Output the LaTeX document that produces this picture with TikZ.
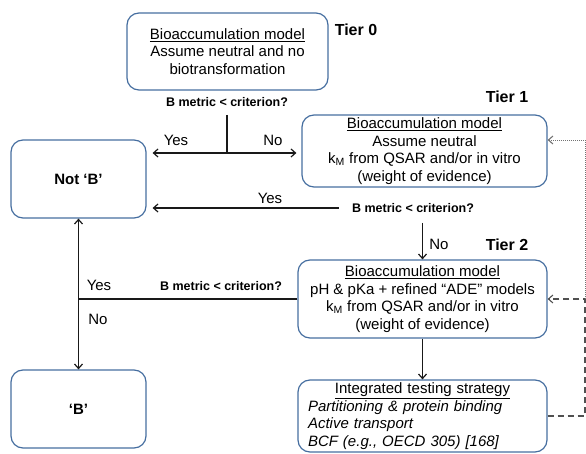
\documentclass[tikz,border=0pt]{standalone}
\usepackage{fontspec}
\setmainfont{Liberation Sans}
\usetikzlibrary{arrows.meta}
\definecolor{boxblue}{RGB}{70,110,160}
\definecolor{linegray}{RGB}{25,25,25}
\definecolor{dashgray}{RGB}{80,80,80}
\begin{document}
\begin{tikzpicture}[x=1pt,y=-1pt,
  box/.style={draw=boxblue, line width=1.2pt, rounded corners=12pt, align=center,
    font=\fontsize{15}{17.5}\selectfont, inner sep=0pt},
  qlabel/.style={font=\bfseries\fontsize{12.5}{14}\selectfont, inner sep=1pt},
  tier/.style={font=\bfseries\fontsize{16}{18}\selectfont, inner sep=0pt},
  lbl/.style={font=\fontsize{15}{17}\selectfont, inner sep=0pt},
  tip/.style={-{Straight Barb[length=4.5pt,width=8pt,line width=1.2pt]}},
  conn/.style={line width=1.2pt, draw=linegray},
  arr/.style={conn, tip},
  dashconn/.style={line width=1.1pt, draw=dashgray, dash pattern=on 6pt off 4pt},
  dotconn/.style={line width=0.8pt, draw=dashgray!80, dash pattern=on 1pt off 1pt}
]
\useasboundingbox (0,0) rectangle (586,454);

% boxes
\node[box, minimum width=201pt, minimum height=77pt] (t0) at (227.5,51.5)
  {\underline{Bioaccumulation model}\\Assume neutral and no\\biotransformation};
\node[box, minimum width=245pt, minimum height=72pt] (t1) at (424.5,151)
  {\underline{Bioaccumulation model}\\Assume neutral\\k\textsubscript{M} from QSAR and/or in vitro\\(weight of evidence)};
\node[box, minimum width=135pt, minimum height=78pt, font=\bfseries\fontsize{15}{17.5}\selectfont] (notB) at (78.5,179) {Not ‘B’};
\node[box, minimum width=249pt, minimum height=78pt] (t2) at (422.5,299)
  {\underline{Bioaccumulation model}\\pH \& pKa + refined “ADE” models\\k\textsubscript{M} from QSAR and/or in vitro\\(weight of evidence)};
\node[box, minimum width=249pt, minimum height=72pt, text width=229pt, align=left, inner xsep=10pt] (its) at (422.5,416)
  {\makebox[\hsize]{\underline{Integrated testing strategy}}\\
   \itshape Partitioning \& protein binding\\
   \itshape Active transport\\
   \itshape BCF (e.g., OECD 305) [168]};
\node[box, minimum width=135pt, minimum height=78pt, font=\bfseries\fontsize{15}{17.5}\selectfont] (B) at (78.5,409) {‘B’};

% tier labels
\node[tier] (tier0) at (356,30) {Tier 0};
\node[tier] (tier1) at (507,97) {Tier 1};
\node[tier] (tier2) at (507,245) {Tier 2};

% question labels
\node[qlabel] (q0) at (227,102) {B metric < criterion?};
\node[qlabel] (q1) at (413,208) {B metric < criterion?};
\node[qlabel] (q2) at (221,286) {B metric < criterion?};

% yes/no labels
\node[lbl] (yes0) at (176,140) {Yes};
\node[lbl] (no0) at (273,140) {No};
\node[lbl] (yes1) at (270,198) {Yes};
\node[lbl] (no1) at (439,244) {No};
\node[lbl] (yes2) at (99,285) {Yes};
\node[lbl] (no2) at (98,319) {No};

% coordinates
\coordinate (j0) at (227,153);
\coordinate (j2) at (notB.south |- t2.west);
\coordinate (r1) at (585,140);
\coordinate (r2) at (r1 |- t2.east);
\coordinate (r3) at (r1 |- its.east);

% tier 0 decision
\draw[conn, shorten <=7pt] (q0.south) -- (j0);
\draw[arr, shorten >=6pt] (j0) -- (j0 -| notB.east);
\draw[arr, shorten >=5pt] (j0) -- (j0 -| t1.west);

% tier 1 decision
\draw[arr, shorten <=12pt, shorten >=6pt] (q1.west) -- (q1.west -| notB.east);
\draw[arr, shorten <=9pt] (q1.south -| t2.north) -- (t2.north);

% tier 2 decision
\draw[conn] (t2.west) -- (j2);
\draw[arr] (j2) -- (notB.south);
\draw[arr] (j2) -- (B.north);
\draw[arr] (t2.south) -- (its.north);

% feedback loops
\draw[dashconn, -{Straight Barb[length=4.5pt,width=8pt,line width=1.1pt]}] (its.east) -- (r3) -- (r2) -- (t2.east);
\draw[dotconn, -{Straight Barb[length=4.5pt,width=8pt,line width=1.1pt]}] (r2) -- (r1) -- (r1 -| t1.east);
\end{tikzpicture}
\end{document}
